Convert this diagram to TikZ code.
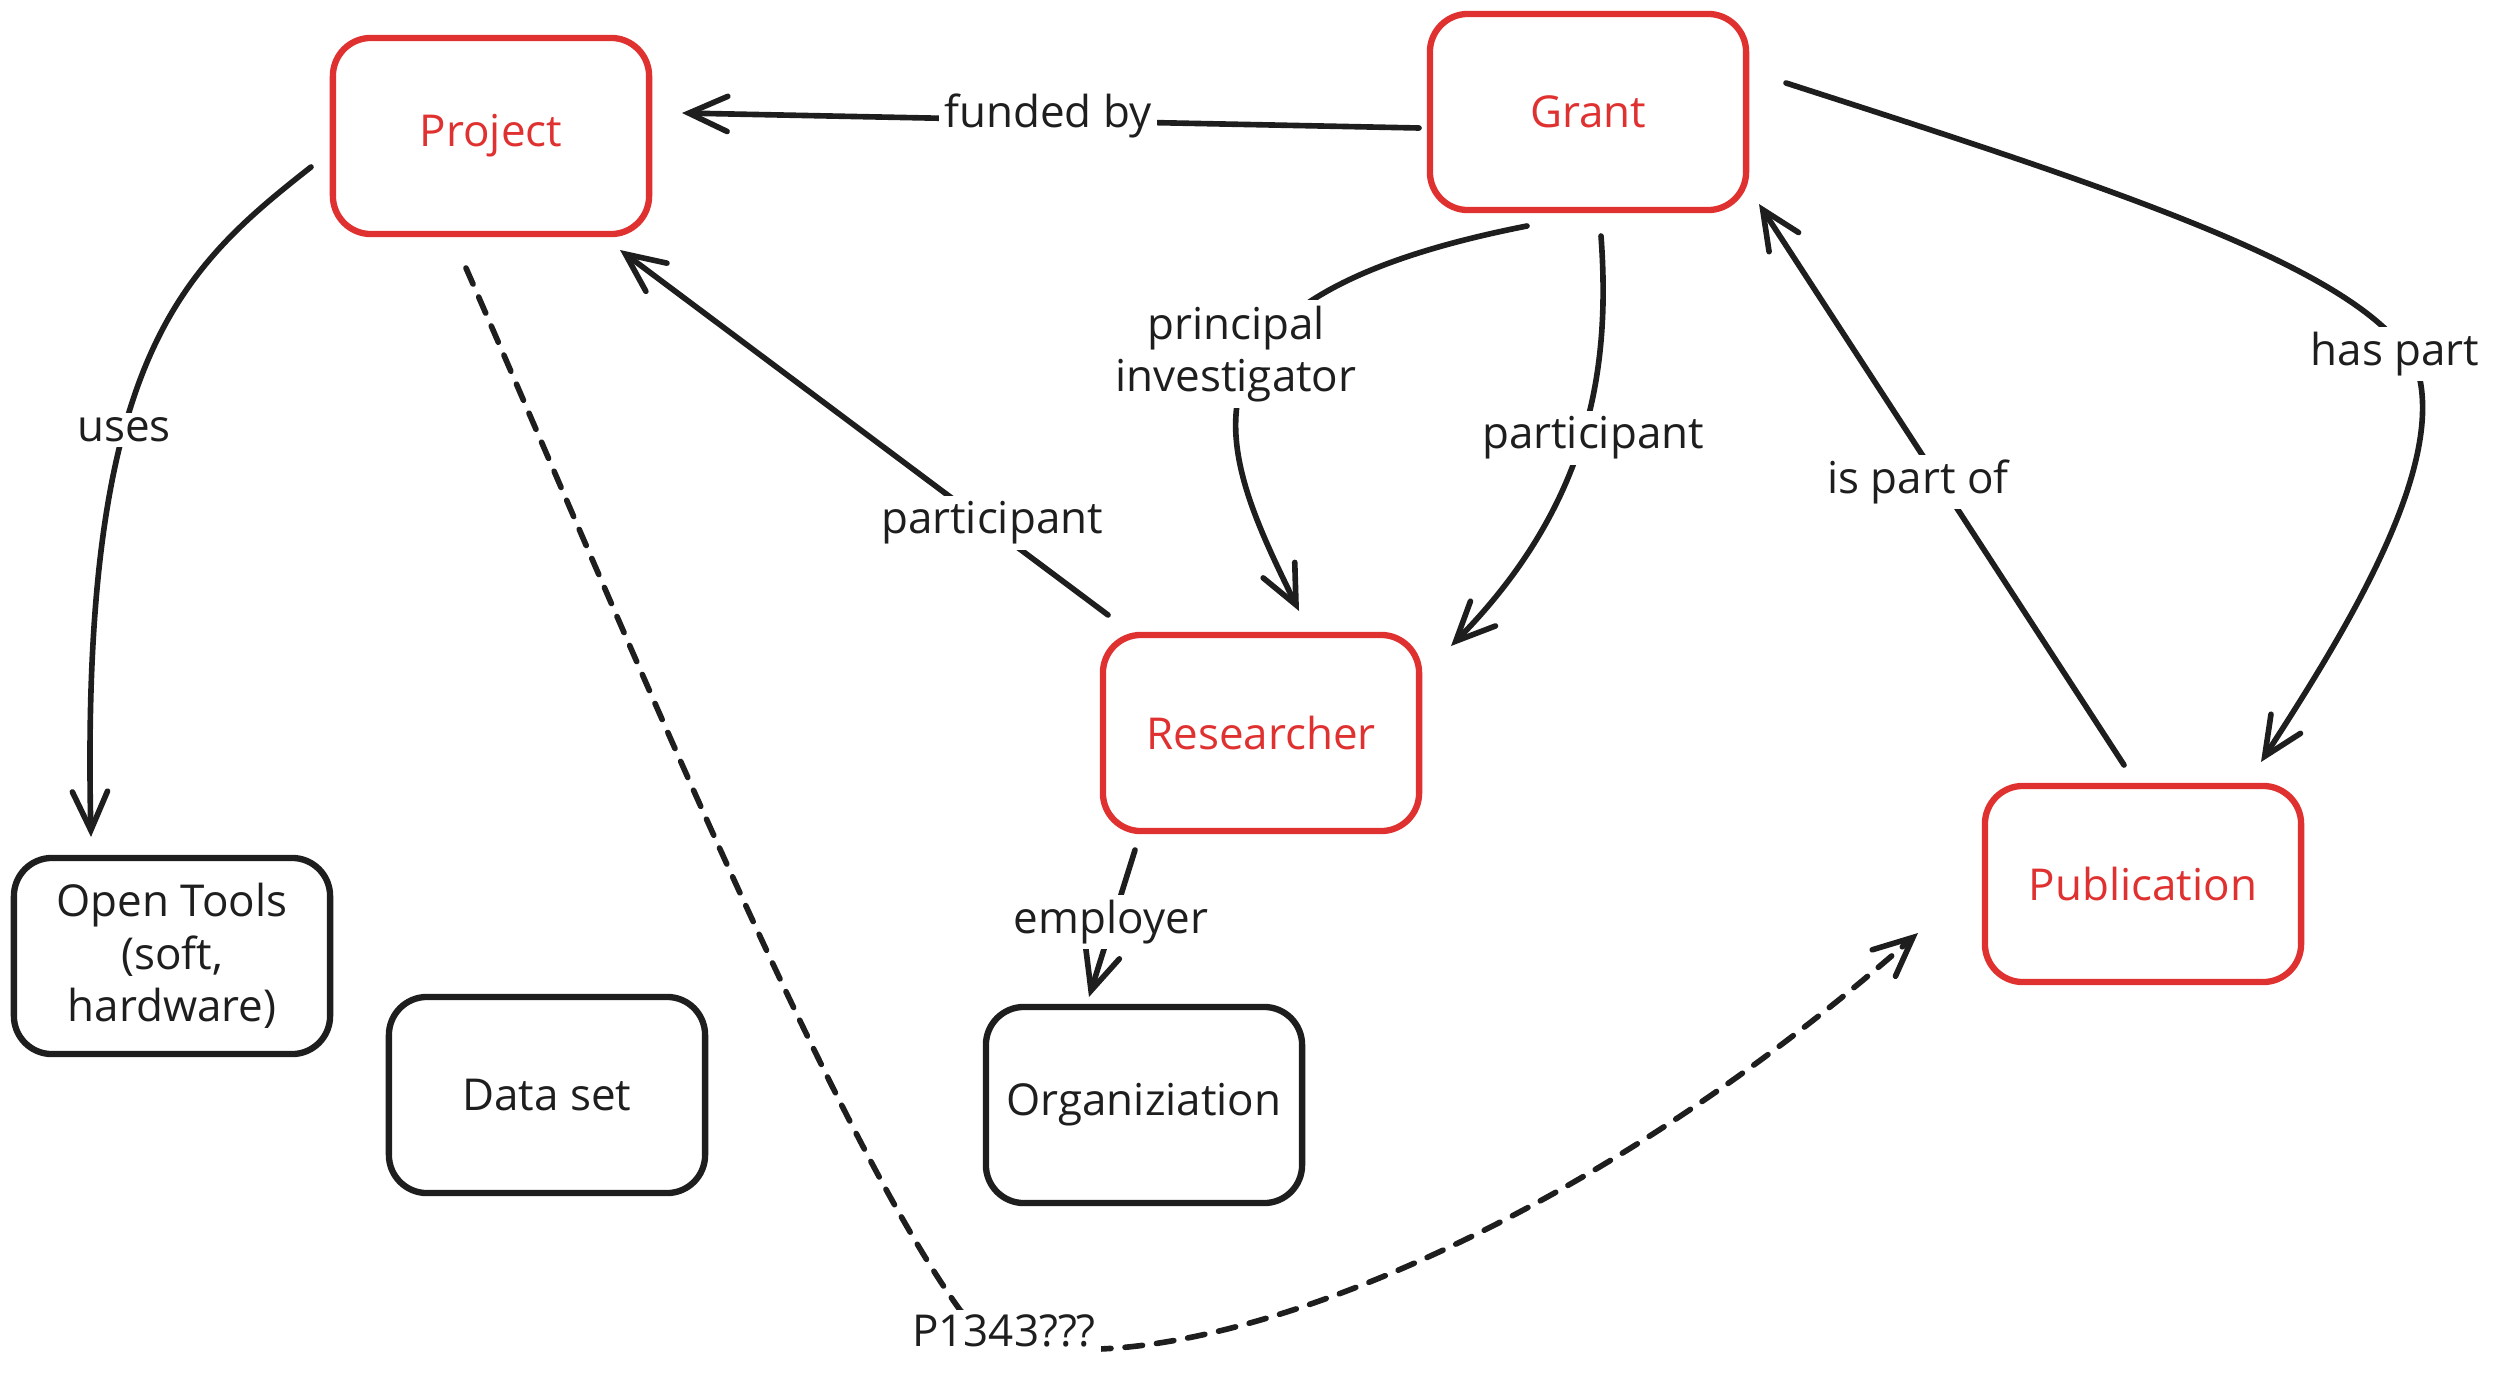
\documentclass[tikz,border=0pt]{standalone}
\usepackage{fontspec}
\setmainfont{Open Sans}
\usetikzlibrary{arrows.meta,calc}
\definecolor{exred}{HTML}{E03131}
\definecolor{ink}{HTML}{1E1E1E}
\begin{document}
\begin{tikzpicture}[x=0.01cm,y=-0.01cm,
  box/.style={draw, line width=1.8pt, rounded corners=0.38cm, minimum width=3.16cm, minimum height=1.96cm, align=center, font=\fontsize{12.5}{15}\selectfont, inner sep=0pt},
  keybox/.style={box, draw=exred, text=exred},
  plainbox/.style={box, draw=ink, text=ink},
  link/.style={draw=ink, line width=1.6pt, line cap=round, -{Straight Barb[length=11pt,width=10pt,line cap=round]}},
  dashlink/.style={link, dash pattern=on 5pt off 4pt},
  lbl/.style={fill=white, text=ink, inner sep=1.5pt, align=center, font=\fontsize{12.5}{15}\selectfont},
]
\useasboundingbox (0,0) rectangle (2500,1373);

% nodes
\node[keybox] (project) at (491,136) {Project};
\node[keybox] (grant) at (1588,112) {Grant};
\node[keybox] (researcher) at (1261,733) {Researcher};
\node[keybox] (publication) at (2143,884) {Publication};
\node[plainbox] (opentools) at (172,956) {Open Tools\\(soft,\\hardware)};
\node[plainbox] (dataset) at (547,1095) {Data set};
\node[plainbox] (org) at (1144,1105) {Organiziation};

% connectors
\draw[link] ($(grant.center)+(-169,16)$) -- ($(project.center)+(191,-23)$);
\draw[link] ($(project.center)+(-180,31)$) .. controls (180,270) and (80,360) .. ($(opentools.center)+(-81,-119)$);
\draw[link] ($(grant.center)+(-61,114)$) .. controls (1150,300) and (1220,450) .. ($(researcher.center)+(38,-122)$);
\draw[link] ($(grant.center)+(13,124)$) .. controls (1610,360) and (1595,500) .. ($(researcher.center)+(190,-87)$);
\draw[link] ($(researcher.center)+(-153,-118)$) -- ($(project.center)+(129,114)$);
\draw[link] ($(researcher.center)+(-126,117)$) -- ($(org.center)+(-55,-108)$);
\draw[link] ($(publication.center)+(-19,-119)$) -- ($(grant.center)+(171,92)$);
\draw[link] ($(grant.center)+(198,-29)$) .. controls (2150,200) and (2390,280) .. (2420,380) .. controls (2440,480) and (2340,640) .. ($(publication.center)+(118,-122)$);
\draw[dashlink] ($(project.center)+(-25,132)$) .. controls (620,620) and (830,1130) .. (960,1310) .. controls (1060,1420) and (1500,1300) .. ($(publication.center)+(-225,49)$);

% labels
\node[lbl] (lfunded) at (1048,116) {funded by};
\node[lbl] (luses) at (124,430) {uses};
\node[lbl] (lpi) at (1236,354) {principal\\investigator};
\node[lbl] (lpartr) at (1593,438) {participant};
\node[lbl] (lpartl) at (992,523) {participant};
\node[lbl] (lemp) at (1111,922) {employer};
\node[lbl] (lispart) at (1918,482) {is part of};
\node[lbl] (lhaspart) at (2395,354) {has part};
\node[lbl] (lp1343) at (1004,1331) {P1343???};
\end{tikzpicture}
\end{document}
